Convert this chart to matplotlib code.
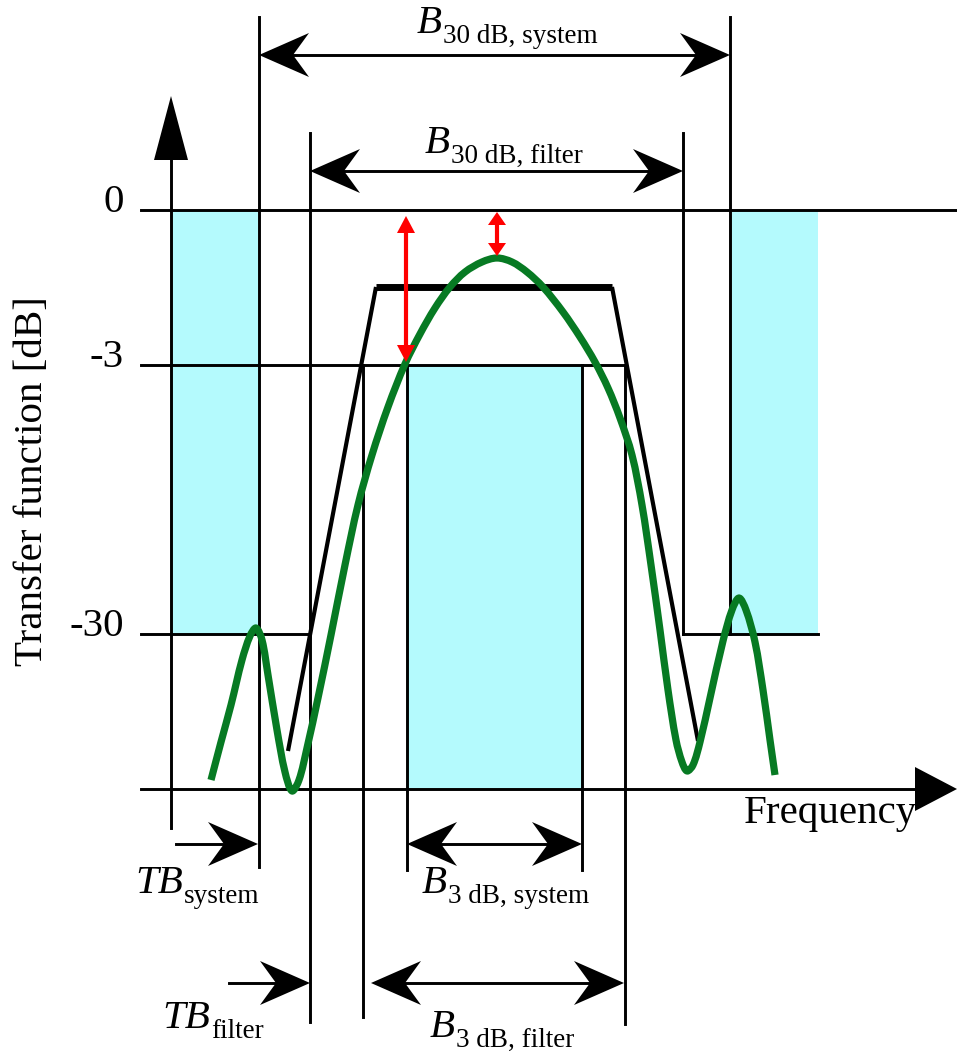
import matplotlib
matplotlib.use("Agg")
import matplotlib.pyplot as plt
from matplotlib.patches import Polygon, Rectangle, PathPatch
from matplotlib.path import Path

plt.rcParams['font.family'] = ['Liberation Serif', 'DejaVu Serif']

# ---------------- data (schematic coordinates) ----------------
level_labels = ["0", "-3", "-30"]
level_y = [210, 365, 634]
base_y = 789

# transfer function of the system (green)
curve_x = [211, 221, 231, 242, 250, 256, 262, 268, 277, 285, 292, 299, 307, 318, 331,
           345, 358, 372, 388, 405, 420, 435, 450, 465, 482, 497, 512, 527, 543, 563,
           580, 595, 608, 620, 632, 642, 651, 660, 668, 676, 682, 687, 693, 700, 710,
           723, 732, 739, 746, 755, 763, 770, 775]
curve_y = [780, 742, 705, 660, 636, 628, 640, 675, 730, 772, 791, 780, 748, 698, 635,
           565, 505, 455, 407, 364, 334, 308, 287, 272, 262, 258, 262, 272, 287, 312,
           337, 362, 388, 418, 455, 505, 565, 630, 690, 740, 762, 771, 765, 742, 698,
           641, 610, 598, 610, 642, 690, 740, 775]

# ideal filter (trapezoid)
filter_x = [288, 376, 612, 698]
filter_y = [751, 287, 287, 741]

# shaded tolerance regions (x0, x1, y0, y1)
shade_x0 = [171, 407, 730]
shade_x1 = [259, 582, 818]
shade_y0 = [210, 365, 210]
shade_y1 = [634, 789, 634]

# vertical marker lines (x, top, bottom)
vline_x = [259, 310, 363, 407, 582, 625, 683, 730]
vline_top = [17, 133, 365, 365, 365, 365, 133, 17]
vline_bot = [867, 1022, 1017, 870, 870, 1024, 634, 634]

# double-headed bandwidth arrows
bw_y = [55, 171, 844, 983]
bw_x0 = [259, 310, 407, 371]
bw_x1 = [730, 683, 582, 624]
bw_main = ['B', 'B', 'B', 'B']
bw_sub = ['30 dB, system', '30 dB, filter', '3 dB, system', '3 dB, filter']
bw_lx = [417, 425, 422, 430]
bw_ly = [33, 153, 893, 1037]

# transition band arrows
tb_y = [844, 983]
tb_x0 = [176, 229]
tb_x1 = [258, 310]
tb_main = ['TB', 'TB']
tb_sub = ['system', 'filter']
tb_lx = [135, 162]
tb_ly = [893, 1028]

# red ripple arrows (x, top, bottom)
red_x = [406, 497]
red_top = [216, 212]
red_bot = [362, 256]

CYAN = '#B4FAFD'
GREEN = '#077A23'
RED = '#FF0000'
FS = 29.5
FS_SUB = 19.5

fig = plt.figure(figsize=(9.57, 10.52), dpi=100)
ax = fig.add_axes([0, 0, 1, 1])
ax.set_xlim(0, 957)
ax.set_ylim(1052, 0)
ax.axis('off')
renderer = fig.canvas.get_renderer()


def head(tip, d, length, half, notch, color, z):
    tx, ty = tip
    dx, dy = d
    px, py = -dy, dx
    bx, by = tx - dx * length, ty - dy * length
    pts = [(tx, ty), (bx + px * half, by + py * half),
           (tx - dx * (length - notch), ty - dy * (length - notch)),
           (bx - px * half, by - py * half)]
    ax.add_patch(Polygon(pts, closed=True, fc=color, ec='none', zorder=z))


def sub_label(x, y, main, sub):
    t = ax.text(x, y, main, fontsize=FS, style='italic', ha='left', va='baseline', zorder=6)
    bb = t.get_window_extent(renderer)
    x_end = ax.transData.inverted().transform((bb.x1, bb.y0))[0]
    ax.text(x_end + 1, y + 10, sub, fontsize=FS_SUB, ha='left', va='baseline', zorder=6)


def smooth_path(xs, ys):
    # smooth rendering of the read points as cubic Bezier segments
    pts = list(zip(xs, ys))
    verts = [pts[0]]
    codes = [Path.MOVETO]
    n = len(pts)
    for i in range(n - 1):
        p0 = pts[i - 1] if i > 0 else pts[i]
        p1 = pts[i]
        p2 = pts[i + 1]
        p3 = pts[i + 2] if i + 2 < n else pts[i + 1]
        d01 = max(((p1[0] - p0[0]) ** 2 + (p1[1] - p0[1]) ** 2) ** 0.5, 1e-6)
        d12 = max(((p2[0] - p1[0]) ** 2 + (p2[1] - p1[1]) ** 2) ** 0.5, 1e-6)
        d23 = max(((p3[0] - p2[0]) ** 2 + (p3[1] - p2[1]) ** 2) ** 0.5, 1e-6)
        t1 = ((p2[0] - p0[0]) / (d01 + d12) * d12, (p2[1] - p0[1]) / (d01 + d12) * d12)
        t2 = ((p3[0] - p1[0]) / (d12 + d23) * d12, (p3[1] - p1[1]) / (d12 + d23) * d12)
        c1 = (p1[0] + t1[0] / 3.0, p1[1] + t1[1] / 3.0)
        c2 = (p2[0] - t2[0] / 3.0, p2[1] - t2[1] / 3.0)
        verts += [c1, c2, p2]
        codes += [Path.CURVE4] * 3
    return Path(verts, codes)


LW = 2.1
for x0, x1, y0, y1 in zip(shade_x0, shade_x1, shade_y0, shade_y1):
    ax.add_patch(Rectangle((x0, y0), x1 - x0, y1 - y0, fc=CYAN, ec='none', zorder=0))

ax.plot([141, 957], [level_y[0]] * 2, color='k', lw=LW, zorder=2)
ax.plot([141, 625], [level_y[1]] * 2, color='k', lw=LW, zorder=2)
ax.plot([141, 310], [level_y[2]] * 2, color='k', lw=LW, zorder=2)
ax.plot([683, 818], [level_y[2]] * 2, color='k', lw=LW, zorder=2)
ax.plot([141, 920], [base_y] * 2, color='k', lw=LW, zorder=2)
head((957, base_y), (1, 0), 42, 22, 0, 'k', 3)
ax.plot([171, 171], [155, 828], color='k', lw=LW, zorder=2)
head((171, 96), (0, -1), 64, 17, 0, 'k', 3)

for x, t, b in zip(vline_x, vline_top, vline_bot):
    ax.plot([x, x], [t, b], color='k', lw=LW, zorder=2)

ax.plot(filter_x[:2], filter_y[:2], color='k', lw=3.0, zorder=3, solid_capstyle='butt')
ax.plot(filter_x[2:], filter_y[2:], color='k', lw=3.0, zorder=3, solid_capstyle='butt')
ax.plot(filter_x[1:3], filter_y[1:3], color='k', lw=5.0, zorder=3, solid_capstyle='butt')

ax.add_patch(PathPatch(smooth_path(curve_x, curve_y), fc='none', ec=GREEN, lw=5.2,
                       zorder=4, joinstyle='round', capstyle='butt'))

for y, x0, x1, m, s, lx, ly in zip(bw_y, bw_x0, bw_x1, bw_main, bw_sub, bw_lx, bw_ly):
    ax.plot([x0 + 30, x1 - 30], [y, y], color='k', lw=LW, zorder=3)
    head((x0, y), (-1, 0), 50, 22, 16, 'k', 3)
    head((x1, y), (1, 0), 50, 22, 16, 'k', 3)
    sub_label(lx, ly, m, s)

for y, x0, x1, m, s, lx, ly in zip(tb_y, tb_x0, tb_x1, tb_main, tb_sub, tb_lx, tb_ly):
    ax.plot([x0, x1 - 30], [y, y], color='k', lw=LW, zorder=3)
    head((x1, y), (1, 0), 50, 22, 16, 'k', 3)
    sub_label(lx, ly, m, s)

for x, t, b in zip(red_x, red_top, red_bot):
    ax.plot([x, x], [t + 10, b - 10], color=RED, lw=3.0, zorder=5)
    hl = 17 if (b - t) > 80 else 13
    head((x, t), (0, -1), hl, 9, 0, RED, 5)
    head((x, b), (0, 1), hl, 9, 0, RED, 5)

for lab, y in zip(level_labels, level_y):
    ax.text(124, y + 2, lab, fontsize=FS, ha='right', va='baseline')

ax.text(744, 823, 'Frequency', fontsize=FS, ha='left', va='baseline')
ax.text(33, 481, 'Transfer function [dB]', fontsize=FS, rotation=90,
        ha='center', va='center')

fig.savefig('out.png', dpi=100)
